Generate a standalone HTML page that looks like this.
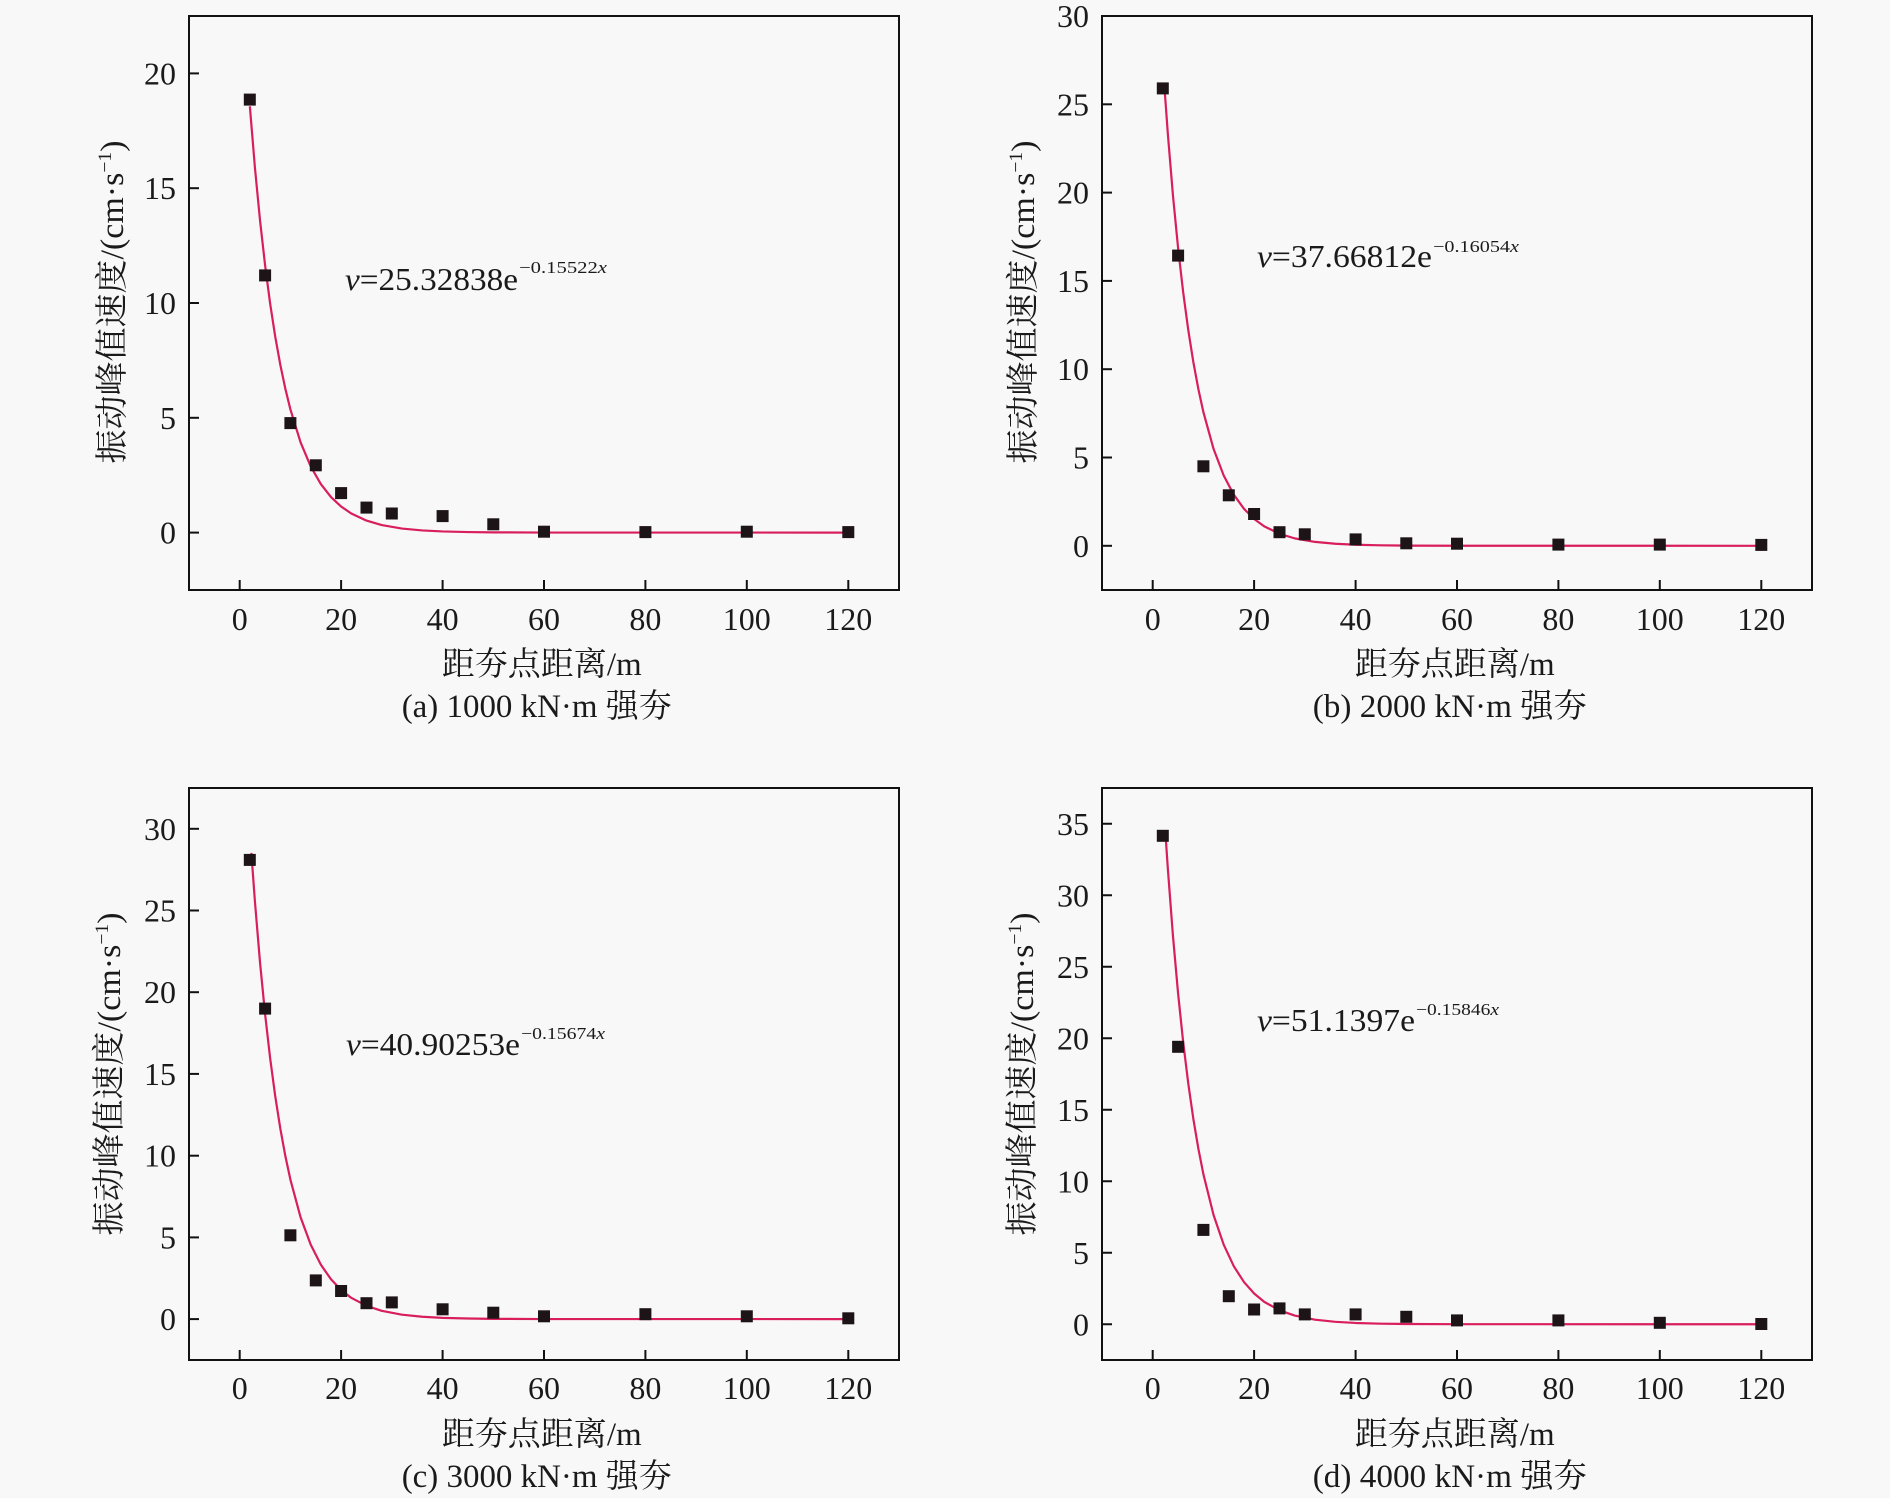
<!DOCTYPE html>
<html>
<head>
<meta charset="utf-8">
<style>
html,body{margin:0;padding:0;background:#f8f8f8;}
svg{display:block;}
text{font-family:"Liberation Serif","Noto Serif CJK SC",serif;fill:#1a1a1a;}
.tl{font-size:32px;}
.ax{font-size:33px;}
</style>
</head>
<body>
<svg width="1890" height="1498" viewBox="0 0 1890 1498" xmlns="http://www.w3.org/2000/svg">
<rect x="0" y="0" width="1890" height="1498" fill="#f8f8f8"/>

<!-- ================= (a) ================= -->
<g>
<rect x="189" y="16" width="710" height="574" fill="none" stroke="#111" stroke-width="2"/>
<g stroke="#111" stroke-width="2">
<line x1="189" y1="532.6" x2="199" y2="532.6"/>
<line x1="189" y1="417.8" x2="199" y2="417.8"/>
<line x1="189" y1="303.0" x2="199" y2="303.0"/>
<line x1="189" y1="188.2" x2="199" y2="188.2"/>
<line x1="189" y1="73.4" x2="199" y2="73.4"/>
<line x1="239.7" y1="590" x2="239.7" y2="580"/>
<line x1="341.1" y1="590" x2="341.1" y2="580"/>
<line x1="442.6" y1="590" x2="442.6" y2="580"/>
<line x1="544.0" y1="590" x2="544.0" y2="580"/>
<line x1="645.4" y1="590" x2="645.4" y2="580"/>
<line x1="746.8" y1="590" x2="746.8" y2="580"/>
<line x1="848.3" y1="590" x2="848.3" y2="580"/>
</g>
<g class="tl" text-anchor="end">
<text x="176" y="543.6">0</text>
<text x="176" y="428.8">5</text>
<text x="176" y="314.0">10</text>
<text x="176" y="199.2">15</text>
<text x="176" y="84.4">20</text>
</g>
<g class="tl" text-anchor="middle">
<text x="239.7" y="630">0</text>
<text x="341.1" y="630">20</text>
<text x="442.6" y="630">40</text>
<text x="544.0" y="630">60</text>
<text x="645.4" y="630">80</text>
<text x="746.8" y="630">100</text>
<text x="848.3" y="630">120</text>
</g>
<polyline transform="matrix(5.0714 0 0 -22.96 239.7 532.6)" vector-effect="non-scaling-stroke" fill="none" stroke="#d81e5b" stroke-width="2.2" stroke-linejoin="round"
points="2,18.570 3,15.900 4,13.613 5,11.656 6,9.980 7,8.545 8,7.317 9,6.265 10,5.364 12,3.933 14,2.883 16,2.114 18,1.550 20,1.136 22,0.833 25,0.523 28,0.328 32,0.176 36,0.095 40,0.051 45,0.023 50,0.011 60,0.002 120,0"/>
<g fill="#1c1416">
<rect x="243.8" y="93.6" width="12" height="12"/>
<rect x="259.1" y="269.4" width="12" height="12"/>
<rect x="284.4" y="417.1" width="12" height="12"/>
<rect x="309.8" y="459.3" width="12" height="12"/>
<rect x="335.1" y="487.1" width="12" height="12"/>
<rect x="360.5" y="501.6" width="12" height="12"/>
<rect x="385.8" y="507.5" width="12" height="12"/>
<rect x="436.6" y="510.1" width="12" height="12"/>
<rect x="487.3" y="518.3" width="12" height="12"/>
<rect x="538.0" y="525.7" width="12" height="12"/>
<rect x="639.4" y="526.1" width="12" height="12"/>
<rect x="740.8" y="525.7" width="12" height="12"/>
<rect x="842.3" y="526.1" width="12" height="12"/>
</g>
<text x="345" y="290" font-size="32" textLength="173" lengthAdjust="spacingAndGlyphs"><tspan font-style="italic">v</tspan>=25.32838e</text>
<text x="519" y="273" font-size="17" textLength="88" lengthAdjust="spacingAndGlyphs">−0.15522<tspan font-style="italic">x</tspan></text>
<text class="ax" transform="translate(123,302) rotate(-90)" text-anchor="middle" textLength="323" lengthAdjust="spacingAndGlyphs">振动峰值速度/(cm·s<tspan dy="-12" font-size="19">−1</tspan><tspan dy="12">)</tspan></text>
<text class="ax" x="541.7" y="675" text-anchor="middle" textLength="200" lengthAdjust="spacingAndGlyphs">距夯点距离/m</text>
<text class="ax" x="536.7" y="717" text-anchor="middle" textLength="270" lengthAdjust="spacingAndGlyphs">(a) 1000 kN·m 强夯</text>
</g>

<!-- ================= (b) ================= -->
<g>
<rect x="1102" y="16" width="710" height="574" fill="none" stroke="#111" stroke-width="2"/>
<g stroke="#111" stroke-width="2">
<line x1="1102" y1="545.8" x2="1112" y2="545.8"/>
<line x1="1102" y1="457.5" x2="1112" y2="457.5"/>
<line x1="1102" y1="369.2" x2="1112" y2="369.2"/>
<line x1="1102" y1="280.9" x2="1112" y2="280.9"/>
<line x1="1102" y1="192.6" x2="1112" y2="192.6"/>
<line x1="1102" y1="104.3" x2="1112" y2="104.3"/>
<line x1="1152.7" y1="590" x2="1152.7" y2="580"/>
<line x1="1254.1" y1="590" x2="1254.1" y2="580"/>
<line x1="1355.6" y1="590" x2="1355.6" y2="580"/>
<line x1="1457.0" y1="590" x2="1457.0" y2="580"/>
<line x1="1558.4" y1="590" x2="1558.4" y2="580"/>
<line x1="1659.8" y1="590" x2="1659.8" y2="580"/>
<line x1="1761.3" y1="590" x2="1761.3" y2="580"/>
</g>
<g class="tl" text-anchor="end">
<text x="1089" y="556.8">0</text>
<text x="1089" y="468.5">5</text>
<text x="1089" y="380.2">10</text>
<text x="1089" y="291.9">15</text>
<text x="1089" y="203.6">20</text>
<text x="1089" y="115.3">25</text>
<text x="1089" y="27.0">30</text>
</g>
<g class="tl" text-anchor="middle">
<text x="1152.7" y="630">0</text>
<text x="1254.1" y="630">20</text>
<text x="1355.6" y="630">40</text>
<text x="1457.0" y="630">60</text>
<text x="1558.4" y="630">80</text>
<text x="1659.8" y="630">100</text>
<text x="1761.3" y="630">120</text>
</g>
<polyline transform="matrix(5.0714 0 0 -17.66 1152.7 545.8)" vector-effect="non-scaling-stroke" fill="none" stroke="#d81e5b" stroke-width="2.2" stroke-linejoin="round"
points="2.3,26.038 3,23.270 4,19.819 5,16.880 6,14.376 7,12.244 8,10.428 9,8.881 10,7.564 12,5.487 14,3.980 16,2.887 18,2.094 20,1.519 22,1.102 25,0.681 28,0.420 32,0.221 36,0.116 40,0.061 45,0.028 50,0.012 60,0.0025 120,0"/>
<g fill="#1c1416">
<rect x="1156.8" y="82.4" width="12" height="12"/>
<rect x="1172.1" y="249.6" width="12" height="12"/>
<rect x="1197.4" y="460.3" width="12" height="12"/>
<rect x="1222.8" y="489.3" width="12" height="12"/>
<rect x="1248.1" y="508.0" width="12" height="12"/>
<rect x="1273.5" y="526.2" width="12" height="12"/>
<rect x="1298.8" y="528.3" width="12" height="12"/>
<rect x="1349.6" y="533.4" width="12" height="12"/>
<rect x="1400.3" y="537.3" width="12" height="12"/>
<rect x="1451.0" y="537.7" width="12" height="12"/>
<rect x="1552.4" y="538.6" width="12" height="12"/>
<rect x="1653.8" y="538.6" width="12" height="12"/>
<rect x="1755.3" y="538.9" width="12" height="12"/>
</g>
<text x="1257" y="267" font-size="32" textLength="175" lengthAdjust="spacingAndGlyphs"><tspan font-style="italic">v</tspan>=37.66812e</text>
<text x="1433" y="252" font-size="17" textLength="86" lengthAdjust="spacingAndGlyphs">−0.16054<tspan font-style="italic">x</tspan></text>
<text class="ax" transform="translate(1034,302) rotate(-90)" text-anchor="middle" textLength="323" lengthAdjust="spacingAndGlyphs">振动峰值速度/(cm·s<tspan dy="-12" font-size="19">−1</tspan><tspan dy="12">)</tspan></text>
<text class="ax" x="1454.7" y="675" text-anchor="middle" textLength="200" lengthAdjust="spacingAndGlyphs">距夯点距离/m</text>
<text class="ax" x="1449.7" y="717" text-anchor="middle" textLength="274" lengthAdjust="spacingAndGlyphs">(b) 2000 kN·m 强夯</text>
</g>

<!-- ================= (c) ================= -->
<g>
<rect x="189" y="788" width="710" height="572" fill="none" stroke="#111" stroke-width="2"/>
<g stroke="#111" stroke-width="2">
<line x1="189" y1="1319.1" x2="199" y2="1319.1"/>
<line x1="189" y1="1237.4" x2="199" y2="1237.4"/>
<line x1="189" y1="1155.7" x2="199" y2="1155.7"/>
<line x1="189" y1="1073.9" x2="199" y2="1073.9"/>
<line x1="189" y1="992.2" x2="199" y2="992.2"/>
<line x1="189" y1="910.5" x2="199" y2="910.5"/>
<line x1="189" y1="828.8" x2="199" y2="828.8"/>
<line x1="239.7" y1="1360" x2="239.7" y2="1350"/>
<line x1="341.1" y1="1360" x2="341.1" y2="1350"/>
<line x1="442.6" y1="1360" x2="442.6" y2="1350"/>
<line x1="544.0" y1="1360" x2="544.0" y2="1350"/>
<line x1="645.4" y1="1360" x2="645.4" y2="1350"/>
<line x1="746.8" y1="1360" x2="746.8" y2="1350"/>
<line x1="848.3" y1="1360" x2="848.3" y2="1350"/>
</g>
<g class="tl" text-anchor="end">
<text x="176" y="1330.1">0</text>
<text x="176" y="1248.4">5</text>
<text x="176" y="1166.7">10</text>
<text x="176" y="1084.9">15</text>
<text x="176" y="1003.2">20</text>
<text x="176" y="921.5">25</text>
<text x="176" y="839.8">30</text>
</g>
<g class="tl" text-anchor="middle">
<text x="239.7" y="1399">0</text>
<text x="341.1" y="1399">20</text>
<text x="442.6" y="1399">40</text>
<text x="544.0" y="1399">60</text>
<text x="645.4" y="1399">80</text>
<text x="746.8" y="1399">100</text>
<text x="848.3" y="1399">120</text>
</g>
<polyline transform="matrix(5.0714 0 0 -16.343 239.7 1319.1)" vector-effect="non-scaling-stroke" fill="none" stroke="#d81e5b" stroke-width="2.2" stroke-linejoin="round"
points="2.3,28.522 3,25.558 4,21.851 5,18.681 6,15.971 7,13.654 8,11.673 9,9.979 10,8.532 12,6.236 14,4.558 16,3.331 18,2.435 20,1.780 22,1.301 25,0.813 28,0.508 32,0.271 36,0.145 40,0.077 45,0.035 50,0.016 60,0.003 120,0"/>
<g fill="#1c1416">
<rect x="243.8" y="853.9" width="12" height="12"/>
<rect x="259.1" y="1002.6" width="12" height="12"/>
<rect x="284.4" y="1229.3" width="12" height="12"/>
<rect x="309.8" y="1274.4" width="12" height="12"/>
<rect x="335.1" y="1285.0" width="12" height="12"/>
<rect x="360.5" y="1297.2" width="12" height="12"/>
<rect x="385.8" y="1296.4" width="12" height="12"/>
<rect x="436.6" y="1303.3" width="12" height="12"/>
<rect x="487.3" y="1306.7" width="12" height="12"/>
<rect x="538.0" y="1310.3" width="12" height="12"/>
<rect x="639.4" y="1308.2" width="12" height="12"/>
<rect x="740.8" y="1310.3" width="12" height="12"/>
<rect x="842.3" y="1312.3" width="12" height="12"/>
</g>
<text x="346" y="1055" font-size="32" textLength="174" lengthAdjust="spacingAndGlyphs"><tspan font-style="italic">v</tspan>=40.90253e</text>
<text x="521" y="1039" font-size="17" textLength="84" lengthAdjust="spacingAndGlyphs">−0.15674<tspan font-style="italic">x</tspan></text>
<text class="ax" transform="translate(120,1074) rotate(-90)" text-anchor="middle" textLength="323" lengthAdjust="spacingAndGlyphs">振动峰值速度/(cm·s<tspan dy="-12" font-size="19">−1</tspan><tspan dy="12">)</tspan></text>
<text class="ax" x="541.7" y="1445" text-anchor="middle" textLength="200" lengthAdjust="spacingAndGlyphs">距夯点距离/m</text>
<text class="ax" x="536.7" y="1487" text-anchor="middle" textLength="270" lengthAdjust="spacingAndGlyphs">(c) 3000 kN·m 强夯</text>
</g>

<!-- ================= (d) ================= -->
<g>
<rect x="1102" y="788" width="710" height="572" fill="none" stroke="#111" stroke-width="2"/>
<g stroke="#111" stroke-width="2">
<line x1="1102" y1="1324.25" x2="1112" y2="1324.25"/>
<line x1="1102" y1="1252.75" x2="1112" y2="1252.75"/>
<line x1="1102" y1="1181.25" x2="1112" y2="1181.25"/>
<line x1="1102" y1="1109.75" x2="1112" y2="1109.75"/>
<line x1="1102" y1="1038.25" x2="1112" y2="1038.25"/>
<line x1="1102" y1="966.75" x2="1112" y2="966.75"/>
<line x1="1102" y1="895.25" x2="1112" y2="895.25"/>
<line x1="1102" y1="823.75" x2="1112" y2="823.75"/>
<line x1="1152.7" y1="1360" x2="1152.7" y2="1350"/>
<line x1="1254.1" y1="1360" x2="1254.1" y2="1350"/>
<line x1="1355.6" y1="1360" x2="1355.6" y2="1350"/>
<line x1="1457.0" y1="1360" x2="1457.0" y2="1350"/>
<line x1="1558.4" y1="1360" x2="1558.4" y2="1350"/>
<line x1="1659.8" y1="1360" x2="1659.8" y2="1350"/>
<line x1="1761.3" y1="1360" x2="1761.3" y2="1350"/>
</g>
<g class="tl" text-anchor="end">
<text x="1089" y="1335.25">0</text>
<text x="1089" y="1263.75">5</text>
<text x="1089" y="1192.25">10</text>
<text x="1089" y="1120.75">15</text>
<text x="1089" y="1049.25">20</text>
<text x="1089" y="977.75">25</text>
<text x="1089" y="906.25">30</text>
<text x="1089" y="834.75">35</text>
</g>
<g class="tl" text-anchor="middle">
<text x="1152.7" y="1399">0</text>
<text x="1254.1" y="1399">20</text>
<text x="1355.6" y="1399">40</text>
<text x="1457.0" y="1399">60</text>
<text x="1558.4" y="1399">80</text>
<text x="1659.8" y="1399">100</text>
<text x="1761.3" y="1399">120</text>
</g>
<polyline transform="matrix(5.0714 0 0 -14.3 1152.7 1324.25)" vector-effect="non-scaling-stroke" fill="none" stroke="#d81e5b" stroke-width="2.2" stroke-linejoin="round"
points="2.6,33.872 3,31.791 4,27.132 5,23.156 6,19.763 7,16.867 8,14.395 9,12.285 10,10.485 12,7.637 14,5.563 16,4.052 18,2.951 20,2.150 22,1.566 25,0.973 28,0.605 32,0.321 36,0.170 40,0.090 45,0.041 50,0.019 60,0.004 120,0"/>
<g fill="#1c1416">
<rect x="1156.8" y="829.8" width="12" height="12"/>
<rect x="1172.1" y="1040.8" width="12" height="12"/>
<rect x="1197.4" y="1223.9" width="12" height="12"/>
<rect x="1222.8" y="1290.2" width="12" height="12"/>
<rect x="1248.1" y="1303.5" width="12" height="12"/>
<rect x="1273.5" y="1302.4" width="12" height="12"/>
<rect x="1298.8" y="1308.4" width="12" height="12"/>
<rect x="1349.6" y="1308.4" width="12" height="12"/>
<rect x="1400.3" y="1310.8" width="12" height="12"/>
<rect x="1451.0" y="1314.4" width="12" height="12"/>
<rect x="1552.4" y="1314.4" width="12" height="12"/>
<rect x="1653.8" y="1316.8" width="12" height="12"/>
<rect x="1755.3" y="1318.0" width="12" height="12"/>
</g>
<text x="1257" y="1031" font-size="32" textLength="158" lengthAdjust="spacingAndGlyphs"><tspan font-style="italic">v</tspan>=51.1397e</text>
<text x="1416" y="1015" font-size="17" textLength="83" lengthAdjust="spacingAndGlyphs">−0.15846<tspan font-style="italic">x</tspan></text>
<text class="ax" transform="translate(1033,1074) rotate(-90)" text-anchor="middle" textLength="323" lengthAdjust="spacingAndGlyphs">振动峰值速度/(cm·s<tspan dy="-12" font-size="19">−1</tspan><tspan dy="12">)</tspan></text>
<text class="ax" x="1454.7" y="1445" text-anchor="middle" textLength="200" lengthAdjust="spacingAndGlyphs">距夯点距离/m</text>
<text class="ax" x="1449.7" y="1487" text-anchor="middle" textLength="274" lengthAdjust="spacingAndGlyphs">(d) 4000 kN·m 强夯</text>
</g>
</svg>
</body>
</html>
